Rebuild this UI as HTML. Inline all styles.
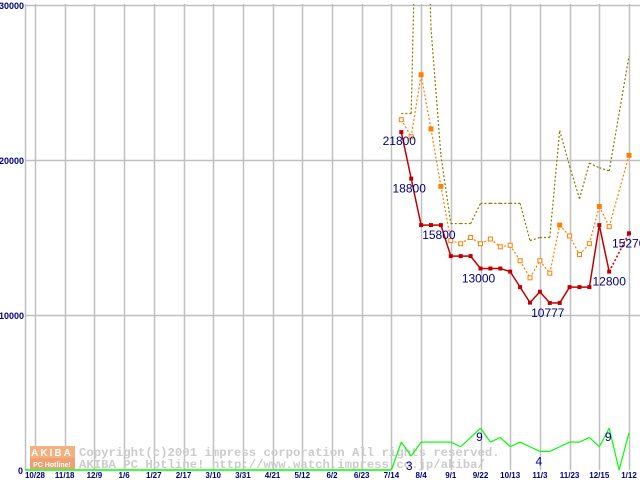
<!DOCTYPE html>
<html><head><meta charset="utf-8"><style>
html,body{margin:0;padding:0;background:#fff;width:640px;height:480px;overflow:hidden}
svg{display:block}
</style></head><body>
<svg id="chart" width="640" height="480" xmlns="http://www.w3.org/2000/svg"></svg>
<script>
const xLabels=["10/28","11/18","12/9","1/6","1/27","2/17","3/10","3/31","4/21","5/12","6/2","6/23","7/14","8/4","9/1","9/22","10/13","11/3","11/23","12/15","1/12"];
const yTicks=[0,10000,20000,30000];
const startWeek=37;
const minPrice=[21800,18800,15800,15800,15800,13800,13800,13800,13000,13000,13000,12800,11800,10800,11500,10777,10777,11800,11800,11800,15800,12800,null,15270];
const avgPrice=[22600,21500,25500,22000,18300,14800,14600,15000,14600,14900,14400,14500,13500,12400,13500,12700,15800,15100,13900,14600,17000,15700,null,20300];
const avgFilled=[0,0,1,1,1,0,0,0,0,0,0,0,0,0,0,0,1,0,0,0,1,0,0,1];
const maxPrice=[23000,23000,51000,28500,20300,15900,15900,15900,17200,17200,17200,17200,17200,14800,15000,15000,21900,19600,17500,19800,19500,19300,null,26700];
const shopCount=[6,3,6,6,6,6,5,7,9,6,7,5,6,5,4,4,5,6,6,7,5,9,0,8];
const labels=[[0,"21800"],[1,"18800"],[4,"15800"],[8,"13000"],[15,"10777"],[21,"12800"],[23,"15270"]];
const countLabels=[[8,"9"],[14,"4"],[1,"3"],[21,"9"]];

const NS="http://www.w3.org/2000/svg";
const svg=document.getElementById('chart');
const X=w=>35+w*9.9;
const Y=v=>470-v*155/10000;
const YC=c=>470-c*4.65;
function el(t,a,p){const e=document.createElementNS(NS,t);for(const k in a)e.setAttribute(k,a[k]);(p||svg).appendChild(e);return e;}
const clip=el('clipPath',{id:'pc'});el('rect',{x:25,y:4,width:615,height:476},clip);

const grid=el('g',{});
xLabels.forEach((l,i)=>{const x=Math.round(X(i*3))+0.5;const ln=el('line',{x1:x,y1:4,x2:x,y2:470,stroke:'#c0c0c0','stroke-width':1.5},grid);
 const t=el('text',{x:X(i*3),y:478,'text-anchor':'middle','font-family':'Liberation Sans, sans-serif','font-size':8,'font-weight':'bold',fill:'#000080'});t.textContent=l;});
el('line',{x1:25.5,y1:4,x2:25.5,y2:470,stroke:'#c0c0c0','stroke-width':1.5},grid);
yTicks.forEach(v=>{const y=Math.round(Y(v))+0.5;if(v>0){const ln=el('line',{x1:25,y1:y,x2:640,y2:y,stroke:'#c0c0c0','stroke-width':1.5},grid);}
 const t=el('text',{x:v==0?23:24,y:Y(v)+4,'text-anchor':'end','font-family':'Liberation Sans, sans-serif','font-size':9,'font-weight':'bold',fill:'#000080'});t.textContent=String(v);});

const wm=el('g',{});
el('rect',{x:30,y:446,width:45,height:12,fill:'#f5b080'},wm);
el('rect',{x:30,y:458,width:45,height:11,fill:'#f0a070'},wm);
let t=el('text',{x:52,y:456,'text-anchor':'middle','font-family':'Liberation Sans, sans-serif','font-size':10,'font-weight':'bold',fill:'#fff','letter-spacing':2},wm);t.textContent='AKIBA';
t=el('text',{x:52,y:467,'text-anchor':'middle','font-family':'Liberation Sans, sans-serif','font-size':7,'font-weight':'bold',fill:'#fff'},wm);t.textContent='PC Hotline!';
t=el('text',{x:79,y:456,'font-family':'Liberation Mono, monospace','font-size':12.3,'font-weight':'bold',fill:'#cccccc'},wm);t.textContent='Copyright(c)2001 impress corporation All rights reserved.';
t=el('text',{x:79,y:468,'font-family':'Liberation Mono, monospace','font-size':12.3,'font-weight':'bold',fill:'#cccccc'},wm);t.textContent='AKIBA PC Hotline! http://www.watch.impress.co.jp/akiba/';

function series(data,yf,opts,name){
 const g=el('g',{'clip-path':'url(#pc)'});
 let prev=null;
 data.forEach((v,i)=>{if(v==null)return;const w=startWeek+i;
  if(prev){const dashed=(w-prev.w)>1;el('line',{x1:X(prev.w),y1:yf(prev.v),x2:X(w),y2:yf(v),stroke:opts.color,'stroke-width':opts.width||1.2,'stroke-dasharray':(opts.dash||(dashed?'2,2':'none'))},g);}
  prev={w,v};});
 return g;
}
const gg=el('g',{});
el('line',{x1:25,y1:YC(0),x2:X(startWeek-1),y2:YC(0),stroke:'#00ff00','stroke-width':1.5},gg);
el('line',{x1:X(startWeek-1),y1:YC(0),x2:X(startWeek),y2:YC(shopCount[0]),stroke:'#00ff00','stroke-width':1.2},gg);
shopCount.forEach((v,i)=>{if(i==0)return;el('line',{x1:X(startWeek+i-1),y1:YC(shopCount[i-1]),x2:X(startWeek+i),y2:YC(v),stroke:'#00ff00','stroke-width':1.2},gg);});

const mg=series(maxPrice,Y,{color:'#808000',dash:'2,2'},'max-price-line');
const ag=series(avgPrice,Y,{color:'#ff8000',dash:'2,2'},'avg-price-line');
avgPrice.forEach((v,i)=>{if(v==null)return;const r=el('rect',{x:X(startWeek+i)-2,y:Y(v)-2,width:4,height:4,fill:avgFilled[i]?'#ff8000':'#fff',stroke:'#ff8000','stroke-width':1},ag);});
const rg=series(minPrice,Y,{color:'#c00000',width:1.5},'min-price-line');
minPrice.forEach((v,i)=>{if(v==null)return;const r=el('rect',{x:X(startWeek+i)-2,y:Y(v)-2,width:4,height:4,fill:'#c00000'},rg);});

const lg=el('g',{});
labels.forEach(([i,s])=>{const tx=el('text',{x:X(startWeek+i)-2,y:Y(minPrice[i])+14,'text-anchor':'middle','font-family':'Liberation Sans, sans-serif','font-size':12,fill:'#000080'},lg);
 if(i==0){tx.setAttribute('y',Y(minPrice[i])+13);}
 if(i==21){tx.setAttribute('x',X(startWeek+i));}
 if(i==23){tx.setAttribute('text-anchor','start');tx.setAttribute('x',X(startWeek+i)-17);}
 tx.textContent=s;});
countLabels.forEach(([i,s])=>{const tx=el('text',{x:X(startWeek+i)-1,y:YC(shopCount[i])+(shopCount[i]>5?13:14),'text-anchor':'middle','font-family':'Liberation Sans, sans-serif','font-size':12,fill:'#000080'},lg);
 if(s=="3"){tx.setAttribute('x',X(startWeek+i)-2);tx.setAttribute('y',470);}
 tx.textContent=s;});
</script>
</body></html>
